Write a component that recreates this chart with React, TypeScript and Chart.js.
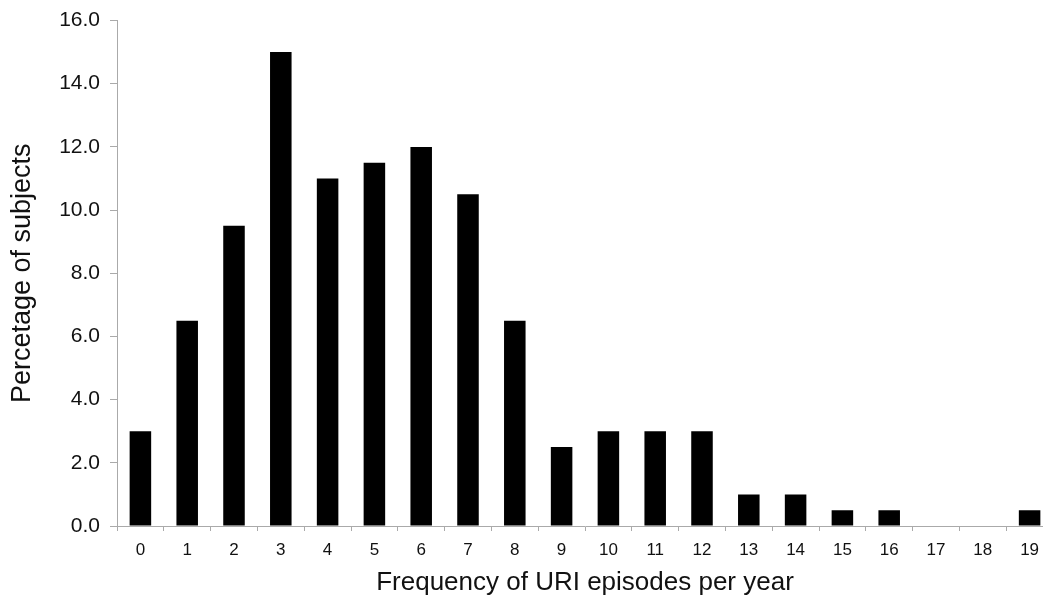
import React, { useEffect, useRef } from "react";
import { Chart, registerables } from "chart.js";

Chart.register(...registerables);

const categories = ["0","1","2","3","4","5","6","7","8","9","10","11","12","13","14","15","16","17","18","19"];
const percentages = [3, 6.5, 9.5, 15, 11, 11.5, 12, 10.5, 6.5, 2.5, 3, 3, 3, 1, 1, 0.5, 0.5, 0, 0, 0.5];
const yTicks = { min: 0, max: 16, step: 2 };
const xTitle = "Frequency of URI episodes per year";
const yTitle = "Percetage of subjects";

export default function App() {
  const ref = useRef<HTMLCanvasElement | null>(null);

  useEffect(() => {
    if (!ref.current) return;
    const font = "'Liberation Sans', Arial, sans-serif";
    const chart = new Chart(ref.current, {
      type: "bar",
      data: {
        labels: categories,
        datasets: [
          {
            data: percentages,
            backgroundColor: "#000000",
            borderWidth: 0,
            barPercentage: 0.46,
            categoryPercentage: 1,
          },
        ],
      },
      options: {
        animation: false,
        responsive: false,
        maintainAspectRatio: false,
        layout: { padding: { top: 20, right: 7, left: 0, bottom: 0 } },
        plugins: { legend: { display: false }, tooltip: { enabled: false } },
        scales: {
          x: {
            grid: {
              offset: true,
              drawOnChartArea: false,
              tickLength: 5,
              color: "#aaaaaa",
            },
            border: { color: "#aaaaaa", width: 1 },
            ticks: {
              color: "#111111",
              font: { family: font, size: 17 },
              padding: 9,
              maxRotation: 0,
              autoSkip: false,
            },
            title: {
              display: true,
              text: xTitle,
              color: "#111111",
              font: { family: font, size: 26 },
              padding: { top: 0, bottom: 4 },
            },
            afterFit: (scale: any) => {
              scale.height = 76;
            },
          },
          y: {
            min: yTicks.min,
            max: yTicks.max,
            grid: {
              drawOnChartArea: false,
              tickLength: 7,
              color: "#aaaaaa",
            },
            border: { color: "#aaaaaa", width: 1 },
            ticks: {
              stepSize: yTicks.step,
              color: "#111111",
              font: { family: font, size: 21, lineHeight: 1 },
              padding: 10,
              callback: (v: any) => Number(v).toFixed(1),
            },
            title: {
              display: true,
              text: yTitle,
              color: "#111111",
              font: { family: font, size: 27 },
              padding: { top: 6, bottom: 0 },
            },
            afterFit: (scale: any) => {
              scale.width = 117;
            },
          },
        },
      },
    });
    return () => chart.destroy();
  }, []);

  return (
    <div
      style={{
        position: "fixed",
        left: 0,
        top: 0,
        width: 1043,
        height: 602,
        overflow: "hidden",
        background: "#ffffff",
      }}
    >
      <canvas ref={ref} width={1060} height={602} style={{ display: "block", width: 1060, height: 602 }} />
    </div>
  );
}
